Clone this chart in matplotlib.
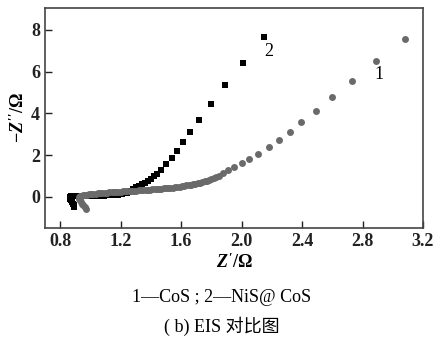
import matplotlib
matplotlib.use('Agg')
import matplotlib.pyplot as plt

# curve 1: CoS (grey circles)
x1 = [0.97, 0.962, 0.953, 0.945, 0.937, 0.93, 0.927, 0.928, 0.932, 0.94, 0.95, 0.962, 0.975, 0.99,
      1.005, 1.02, 1.035, 1.05, 1.065, 1.08, 1.095, 1.11, 1.125, 1.14, 1.155, 1.17, 1.185, 1.20,
      1.215, 1.23, 1.245, 1.26, 1.275, 1.29, 1.305, 1.32, 1.335, 1.35, 1.365, 1.38, 1.395, 1.41,
      1.425, 1.44, 1.455, 1.47, 1.485, 1.50, 1.515, 1.53, 1.545, 1.56, 1.575, 1.59, 1.605, 1.62,
      1.635, 1.65, 1.665, 1.68, 1.695, 1.71, 1.725, 1.74, 1.755, 1.77, 1.785, 1.80, 1.815, 1.83,
      1.85, 1.88, 1.91, 1.95, 2.00, 2.05, 2.11, 2.18, 2.25, 2.32, 2.39, 2.49, 2.60, 2.73, 2.89, 3.08]
y1 = [-0.58, -0.50, -0.42, -0.34, -0.26, -0.18, -0.10, -0.03, 0.02, 0.05, 0.07, 0.09, 0.10, 0.11,
      0.12, 0.13, 0.145, 0.155, 0.165, 0.175, 0.185, 0.195, 0.205, 0.215, 0.225, 0.235, 0.24, 0.25,
      0.255, 0.26, 0.27, 0.275, 0.28, 0.29, 0.295, 0.30, 0.31, 0.315, 0.32, 0.33, 0.34, 0.35,
      0.36, 0.37, 0.38, 0.39, 0.40, 0.41, 0.42, 0.43, 0.44, 0.45, 0.47, 0.48, 0.50, 0.52,
      0.54, 0.56, 0.58, 0.60, 0.63, 0.65, 0.68, 0.71, 0.74, 0.77, 0.81, 0.85, 0.89, 0.94,
      1.01, 1.15, 1.27, 1.44, 1.63, 1.83, 2.07, 2.40, 2.70, 3.11, 3.56, 4.13, 4.76, 5.53, 6.49, 7.55]

# curve 2: NiS@CoS (black squares)
x2 = [0.895, 0.89, 0.885, 0.878, 0.872, 0.868, 0.866, 0.868, 0.875, 0.885, 0.897, 0.91, 0.925,
      0.94, 0.955, 0.97, 0.985, 1.00, 1.015, 1.03, 1.045, 1.06, 1.075, 1.09, 1.105, 1.12, 1.135,
      1.15, 1.165, 1.18, 1.195, 1.21, 1.225, 1.24, 1.255, 1.27, 1.285,
      1.30, 1.32, 1.34, 1.36, 1.38, 1.40, 1.42, 1.44, 1.465, 1.50, 1.54, 1.573, 1.61, 1.66,
      1.72, 1.80, 1.89, 2.01, 2.15]
y2 = [-0.50, -0.42, -0.34, -0.26, -0.18, -0.10, -0.03, 0.01, 0.02, 0.02, 0.02, 0.02, 0.02,
      0.02, 0.02, 0.025, 0.025, 0.03, 0.03, 0.035, 0.04, 0.045, 0.05, 0.055, 0.06, 0.065, 0.07,
      0.08, 0.09, 0.10, 0.12, 0.14, 0.17, 0.20, 0.24, 0.29, 0.35,
      0.45, 0.52, 0.60, 0.68, 0.77, 0.86, 0.97, 1.09, 1.30, 1.59, 1.88, 2.21, 2.62, 3.10,
      3.70, 4.47, 5.34, 6.40, 7.65]

xticks = [0.8, 1.2, 1.6, 2.0, 2.4, 2.8, 3.2]
yticks = [0, 2, 4, 6, 8]

plt.rcParams['font.family'] = ['Liberation Serif', 'Noto Sans CJK SC']
plt.rcParams['mathtext.fontset'] = 'custom'
plt.rcParams['mathtext.rm'] = 'Liberation Serif:bold'
plt.rcParams['mathtext.it'] = 'Liberation Serif:bold:italic'

fig = plt.figure(figsize=(4.35, 3.42), dpi=100)
ax = fig.add_axes([45 / 435, 1 - 228 / 342, 378 / 435, 220 / 342])

ax.plot(x2, y2, 's', color='black', markersize=4.5, markeredgewidth=0, zorder=2)
ax.plot(x1, y1, 'o', color='#6a6a6a', markersize=5.0, markeredgewidth=0, zorder=3)

ax.text(2.18, 6.95, '2', fontsize=13, ha='center', va='center')
ax.text(2.91, 5.85, '1', fontsize=13, ha='center', va='center')

ax.set_xlim(0.7, 3.2)
ax.set_ylim(-1.5, 9.05)
ax.set_xticks(xticks)
ax.set_xticklabels(['%.1f' % v for v in xticks])
ax.set_yticks(yticks)
ax.tick_params(direction='in', length=5, width=1, labelsize=13, colors='#222222')
for lab in ax.get_xticklabels() + ax.get_yticklabels():
    lab.set_fontweight('bold')
for s in ax.spines.values():
    s.set_color('#444444')
    s.set_linewidth(1.2)

ax.set_ylabel(r"$-Z^{\prime\prime}/\Omega$", fontsize=13, labelpad=2)
fig.text(234 / 435, 1 - 262 / 342, r"$Z^{\prime}/\Omega$", fontsize=13, ha='center', va='center')
fig.text(222 / 435, 1 - 298 / 342, '1—CoS ; 2—NiS@ CoS', fontsize=13, ha='center', va='center')
fig.text(222 / 435, 1 - 326 / 342, '( b) EIS 对比图', fontsize=13, ha='center', va='center')

fig.savefig('out.png', dpi=100)
